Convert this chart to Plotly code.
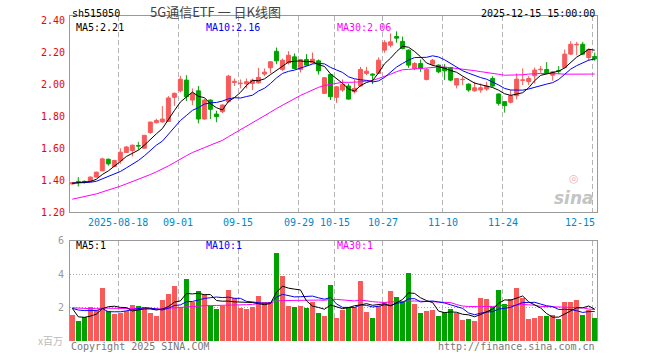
import pandas as pd
import numpy as np
import plotly.graph_objects as go

# ---------------- data ----------------
# trading days 2025-08-06 .. 2025-12-15 (exchange closed 10-01..10-08)
_days = pd.bdate_range("2025-08-06", "2025-12-15")
dates = _days[~((_days >= "2025-10-01") & (_days <= "2025-10-08"))]

open_ = [1.376, 1.392, 1.392, 1.392, 1.419, 1.458, 1.531, 1.485, 1.521, 1.573,
         1.585, 1.617, 1.600, 1.698, 1.760, 1.765, 1.767, 1.919, 1.960, 2.027,
         1.902, 1.960, 1.783, 1.902, 1.814, 1.829, 1.892, 2.012, 2.005, 2.004,
         2.006, 2.010, 2.065, 2.104, 2.208, 2.094, 2.135, 2.173, 2.094, 2.156,
         2.135, 2.148, 1.944, 2.062, 1.919, 1.965, 1.990, 1.954, 1.990, 2.069,
         2.065, 2.069, 2.215, 2.246, 2.300, 2.270, 2.215, 2.100, 2.131, 2.031,
         2.127, 2.121, 2.106, 2.106, 1.996, 2.030, 2.002, 1.960, 1.965, 1.971,
         2.037, 1.940, 1.892, 1.888, 1.929, 2.025, 2.017, 2.054, 2.092, 2.094,
         2.058, 2.087, 2.106, 2.190, 2.248, 2.252, 2.169, 2.175]
high = [1.388, 1.419, 1.398, 1.423, 1.452, 1.540, 1.535, 1.528, 1.600, 1.612,
        1.623, 1.640, 1.683, 1.766, 1.785, 1.864, 1.927, 1.950, 2.054, 2.058,
        1.975, 1.990, 1.910, 1.906, 1.835, 1.875, 2.060, 2.037, 2.031, 2.037,
        2.037, 2.104, 2.100, 2.146, 2.231, 2.162, 2.208, 2.194, 2.160, 2.190,
        2.200, 2.156, 2.046, 2.065, 1.990, 2.031, 2.006, 2.031, 2.110, 2.110,
        2.069, 2.169, 2.277, 2.320, 2.333, 2.300, 2.220, 2.140, 2.156, 2.100,
        2.160, 2.125, 2.127, 2.110, 2.040, 2.048, 2.006, 2.017, 2.006, 2.017,
        2.052, 1.944, 1.894, 1.965, 2.069, 2.100, 2.052, 2.106, 2.115, 2.140,
        2.085, 2.115, 2.219, 2.271, 2.267, 2.267, 2.225, 2.200]
low = [1.372, 1.360, 1.378, 1.387, 1.417, 1.456, 1.490, 1.482, 1.502, 1.570,
       1.548, 1.590, 1.598, 1.690, 1.756, 1.760, 1.765, 1.865, 1.950, 1.896,
       1.870, 1.756, 1.778, 1.783, 1.763, 1.820, 1.885, 1.990, 1.975, 1.975,
       1.965, 2.005, 2.052, 2.069, 2.127, 2.085, 2.125, 2.095, 2.075, 2.115,
       2.130, 2.062, 1.940, 1.902, 1.885, 1.954, 1.906, 1.944, 1.985, 2.058,
       2.002, 2.065, 2.198, 2.232, 2.262, 2.220, 2.104, 2.090, 2.079, 2.025,
       2.115, 2.070, 2.027, 2.020, 1.975, 1.996, 1.954, 1.954, 1.948, 1.960,
       1.985, 1.867, 1.823, 1.880, 1.906, 1.996, 1.996, 2.006, 2.073, 2.065,
       2.023, 2.065, 2.100, 2.185, 2.183, 2.185, 2.148, 2.148]
close = [1.384, 1.388, 1.385, 1.419, 1.450, 1.533, 1.502, 1.523, 1.575, 1.608,
         1.619, 1.613, 1.681, 1.764, 1.774, 1.783, 1.915, 1.944, 2.033, 1.923,
         1.944, 1.783, 1.902, 1.844, 1.798, 1.871, 2.052, 2.020, 2.008, 2.017,
         2.027, 2.044, 2.077, 2.142, 2.148, 2.152, 2.183, 2.100, 2.156, 2.121,
         2.158, 2.085, 2.042, 1.923, 1.985, 2.000, 1.908, 1.975, 2.094, 2.083,
         2.058, 2.152, 2.262, 2.267, 2.290, 2.225, 2.121, 2.131, 2.100, 2.094,
         2.152, 2.079, 2.085, 2.027, 2.037, 2.033, 1.965, 1.979, 1.979, 1.990,
         1.990, 1.881, 1.867, 1.929, 2.033, 2.029, 2.037, 2.090, 2.096, 2.069,
         2.079, 2.083, 2.190, 2.252, 2.252, 2.190, 2.219, 2.160]
# volume, millions of shares
volume = [1.54, 1.18, 1.46, 2.02, 1.86, 3.16, 1.78, 1.62, 1.66, 1.82,
          2.14, 2.08, 1.94, 1.66, 1.48, 2.44, 2.80, 3.28, 2.02, 3.70,
          2.32, 3.00, 2.84, 2.08, 1.90, 2.12, 3.04, 2.60, 1.98, 1.90,
          2.02, 2.68, 2.32, 2.32, 5.26, 3.88, 2.08, 2.02, 2.08, 1.98,
          2.32, 1.66, 1.48, 3.36, 1.36, 1.84, 1.98, 2.04, 3.60, 1.74,
          1.36, 2.08, 2.36, 2.98, 2.62, 2.42, 4.06, 2.20, 1.66, 1.78,
          1.84, 1.48, 1.74, 1.90, 1.66, 1.24, 1.30, 1.18, 2.56, 2.50,
          2.02, 3.04, 2.20, 2.50, 3.16, 2.60, 1.30, 1.36, 1.48, 1.48,
          1.54, 1.30, 2.32, 2.36, 2.44, 1.54, 1.84, 1.36]
# sessions before the window (estimated from where the MA lines start)
prior_close = [1.15, 1.16, 1.16, 1.17, 1.17, 1.16, 1.17, 1.18, 1.18, 1.19,
               1.22, 1.24, 1.26, 1.27, 1.29, 1.30, 1.31, 1.32, 1.34, 1.36,
               1.37, 1.38, 1.38, 1.39, 1.38, 1.37, 1.38, 1.39, 1.38]
prior_volume = [2.1, 1.8, 2.3, 1.9, 2.0, 2.2, 1.7, 2.1, 1.9, 2.0,
                2.4, 1.8, 1.9, 2.1, 2.0, 1.8, 2.2, 1.9, 2.1, 2.0,
                2.18, 1.80, 2.00, 1.90, 1.92, 3.73, 1.61, 1.67, 1.25]

tick_dates = ["2025-08-18", "2025-09-01", "2025-09-15", "2025-09-29", "2025-10-15",
              "2025-10-27", "2025-11-10", "2025-11-24", "2025-12-15"]
tick_text = ["2025-08-18", "09-01", "09-15", "09-29", "10-15",
             "10-27", "11-10", "11-24", "12-15"]
price_ticks = [1.20, 1.40, 1.60, 1.80, 2.00, 2.20, 2.40]
vol_ticks = [2, 4, 6]

# ---------------- styling ----------------
RED = "#f85a5a"
GREEN = "#00a200"
MONO = "DejaVu Sans Mono"
GRID_SHIFT = -0.33

n = len(close)
x = np.arange(n)
o = np.array(open_); c = np.array(close); h = np.array(high); l = np.array(low)
up = c >= o
colors = [RED if u else GREEN for u in up]

def ma(prior, vals, k):
    s = pd.Series(list(prior) + list(vals))
    return s.rolling(k).mean().to_numpy()[len(prior):]

fig = go.Figure()

# wicks
for mask, col in ((up, RED), (~up, GREEN)):
    wx, wy = [], []
    for i in np.where(mask)[0]:
        wx += [i, i, None]
        wy += [l[i], h[i], None]
    fig.add_trace(go.Scatter(x=wx, y=wy, mode="lines", line=dict(color=col, width=1),
                             hoverinfo="skip", xaxis="x", yaxis="y"))
# bodies
fig.add_trace(go.Bar(x=x, y=c - o, base=o, width=0.66,
                     marker=dict(color=colors, line=dict(color=colors, width=1)),
                     xaxis="x", yaxis="y"))
# price MAs
for k, col in ((30, "#ff00ff"), (10, "#0000ff"), (5, "#000000")):
    fig.add_trace(go.Scatter(x=x, y=ma(prior_close, close, k), mode="lines",
                             line=dict(color=col, width=1), xaxis="x", yaxis="y"))
# volume
fig.add_trace(go.Bar(x=x, y=volume, width=0.82, marker=dict(color=colors, line=dict(width=0)),
                     xaxis="x2", yaxis="y2"))
for k, col in ((30, "#ff00ff"), (10, "#0000ff"), (5, "#000000")):
    fig.add_trace(go.Scatter(x=x, y=ma(prior_volume, volume, k), mode="lines",
                             line=dict(color=col, width=1), xaxis="x2", yaxis="y2"))

tick_idx = [dates.get_loc(pd.Timestamp(d)) for d in tick_dates]
grid_vals = [i + GRID_SHIFT for i in tick_idx]

FRAME = "#999999"
VGRID = "#b4b4b4"
HGRID = "#a8a8a8"
top_main, bot_main = 1.0, 0.3969
top_vol = 0.3077
xr = [-0.383, 87.38]

fig.update_layout(
    width=660, height=360,
    margin=dict(l=70, r=63, t=16, b=19, autoexpand=False),
    paper_bgcolor="white", plot_bgcolor="white",
    showlegend=False, bargap=0,
    font=dict(family=MONO, size=10, color="#000"),
    xaxis=dict(domain=[0, 1], range=xr, anchor="y", tickvals=grid_vals, automargin=False,
               showticklabels=False, ticks="", showgrid=True, gridcolor=VGRID,
               griddash="5px,3px", gridwidth=1, zeroline=False,
               showline=True, mirror=True, linecolor=FRAME, linewidth=1),
    yaxis=dict(domain=[bot_main, top_main], range=[1.2, 2.429], tickvals=price_ticks,
               ticktext=[f"{v:.2f}" for v in price_ticks], ticks="", automargin=False,
               tickfont=dict(family=MONO, size=10, color="#ee0000"),
               ticklabelstandoff=2, showgrid=False, zeroline=False,
               showline=True, mirror=True, linecolor=FRAME, linewidth=1),
    yaxis3=dict(overlaying="y", range=[1.2, 2.429], tickvals=price_ticks[1:-1],
                showticklabels=False, ticks="", showgrid=True, gridcolor=HGRID,
                automargin=False,
                griddash="1px,2px", zeroline=False, showline=False, anchor="x"),
    xaxis2=dict(domain=[0, 1], range=xr, anchor="y2", matches="x", tickvals=grid_vals,
                showticklabels=False, ticks="", showgrid=True, gridcolor=VGRID,
                automargin=False,
                griddash="5px,3px", zeroline=False, side="top",
                showline=True, mirror=False, linecolor=FRAME, linewidth=1),
    yaxis2=dict(domain=[0, top_vol], range=[0, 6], tickvals=vol_ticks, ticks="",
                ticktext=[str(v) for v in vol_ticks], automargin=False,
                tickfont=dict(family=MONO, size=10, color="#999999"),
                ticklabelstandoff=3, showgrid=True, gridcolor=HGRID, griddash="1px,2px",
                zeroline=False, showline=True, mirror=True, linecolor=FRAME, linewidth=1),
)

ann = []
def A(text, xp, yp, xa="left", ya="middle", xs=0, ys=0, color="#000", size=10,
      family=MONO, xref="paper", height=None, align="left"):
    d = dict(text=text, x=xp, y=yp, xref=xref, yref="paper", xanchor=xa, yanchor=ya,
             xshift=xs, yshift=ys, showarrow=False, align=align,
             font=dict(family=family, size=size, color=color))
    if height:
        d["height"] = height
    ann.append(d)

A("sh515050", 0, top_main, ys=3, height=11)
A("5G通信ETF 一 日K线图", 0.277, top_main, xa="center", ys=5, color="#444444", size=13,
  family="Noto Sans CJK SC")
A("2025-12-15 15:00:00", 1, top_main, xa="right", ys=3, height=11)
A("MA5:2.21", 0, top_main, xs=4, ys=-11, height=11)
A("MA10:2.16", 0.2549, top_main, ys=-11, color="#0000ff", height=11)
A("MA30:2.06", 0.5023, top_main, ys=-11, color="#ff00ff", height=11)
A("MA5:1", 0, top_vol, xs=4, ys=-5, height=11)
A("MA10:1", 0.2549, top_vol, ys=-5, color="#0000ff", height=11)
A("MA30:1", 0.5023, top_vol, ys=-5, color="#ff00ff", height=11)
A("Copyright 2025 SINA.COM", 0, 0, xs=-1, ys=-5, color="#777777", height=11)
A("http://finance.sina.com.cn", 1, 0, xa="right", ys=-5, color="#777777", height=11)
A("x百万", 0, 0, xa="right", xs=-5, ys=1, color="#bbbbbb", family="Noto Sans CJK SC",
  height=11)
for i, t in zip(tick_idx, tick_text):
    last = (i == n - 1)
    A(t, i + GRID_SHIFT, bot_main, xa="right" if last else "center", ya="top",
      xs=4 if last else 0, ys=-3, color="#0088cc", xref="x", height=11)
# sina watermark
A("<span style='color:#f2b0b0;font-size:11px'>◎</span><br><b><i>sina</i></b>",
  1, bot_main, xa="right", ya="bottom", xs=-1, ys=2, color="#c4c4c4", size=17,
  family="DejaVu Sans", align="center")
fig.update_layout(annotations=ann)

# drop the page's default 8px body margin so the figure sits at the window's corner
fig.write_html("out.html", config={"displayModeBar": False, "staticPlot": True},
               post_script="document.body.style.margin='0';")
